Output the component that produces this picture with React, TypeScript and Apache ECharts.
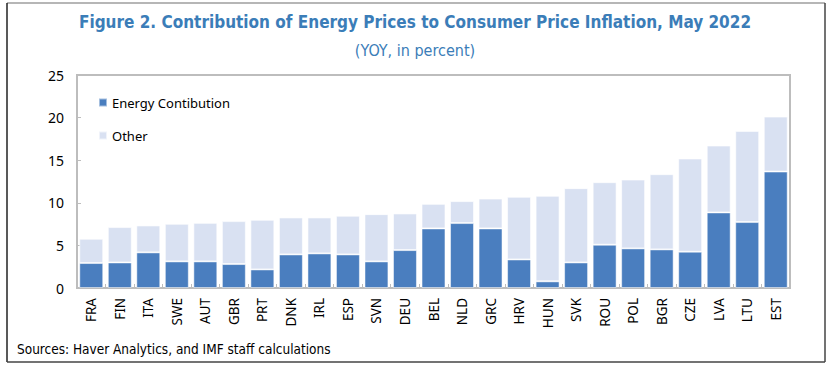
import React, { useEffect, useRef } from "react";
import * as echarts from "echarts";

const categories = ["FRA","FIN","ITA","SWE","AUT","GBR","PRT","DNK","IRL","ESP","SVN","DEU","BEL","NLD","GRC","HRV","HUN","SVK","ROU","POL","BGR","CZE","LVA","LTU","EST"];
const energy = [2.93,3.0,4.18,3.12,3.12,2.81,2.18,3.94,4.06,3.94,3.12,4.45,6.99,7.62,6.99,3.35,0.78,3.0,5.08,4.65,4.53,4.26,8.87,7.74,13.67];
const totals = [5.78,7.15,7.34,7.54,7.65,7.85,8.0,8.28,8.28,8.48,8.67,8.75,9.88,10.2,10.5,10.7,10.82,11.72,12.42,12.73,13.36,15.2,16.72,18.44,20.12];
const other = totals.map((t, i) => Math.round((t - energy[i]) * 100) / 100);
const yTicks = [0, 5, 10, 15, 20, 25];

const titleText = "Figure 2. Contribution of Energy Prices to Consumer Price Inflation, May 2022";
const subtitleText = "(YOY, in percent)";
const sourceText = "Sources: Haver Analytics, and IMF staff calculations";
const condensed = "'DejaVu Sans Condensed', 'Open Sans', sans-serif";

export default function App() {
  const ref = useRef<HTMLDivElement>(null);
  useEffect(() => {
    if (!ref.current) return;
    const chart = echarts.init(ref.current, null, { renderer: "svg" });
    chart.setOption({
      animation: false,
      backgroundColor: "#ffffff",
      title: [
        {
          text: titleText,
          left: "center",
          top: 8,
          textStyle: { fontFamily: condensed, fontWeight: "bold", fontSize: 17, color: "#3B7DB8" },
        },
        {
          text: subtitleText,
          left: "center",
          top: 37,
          textStyle: { fontFamily: condensed, fontWeight: "normal", fontSize: 16, color: "#3B7DB8" },
        },
      ],
      legend: {
        orient: "vertical",
        left: 93,
        top: 91,
        itemWidth: 8,
        itemHeight: 8,
        itemGap: 20,
        icon: "rect",
        textStyle: { fontFamily: "Noto Sans", fontSize: 13, color: "#000" },
        data: ["Energy Contibution", "Other"],
      },
      grid: {
        left: 77,
        right: 40,
        top: 75,
        bottom: 81,
        show: true,
        borderColor: "#BDBDBD",
        borderWidth: 2,
      },
      xAxis: {
        type: "category",
        data: categories,
        axisLine: { lineStyle: { color: "#BDBDBD", width: 2 } },
        axisTick: { show: true, inside: true, length: 4, lineStyle: { color: "#BDBDBD" } },
        axisLabel: {
          rotate: 90,
          interval: 0,
          margin: 10,
          fontFamily: "Noto Sans",
          fontSize: 13.5,
          color: "#000",
        },
      },
      yAxis: {
        type: "value",
        min: yTicks[0],
        max: yTicks[yTicks.length - 1],
        interval: 5,
        splitLine: { show: false },
        axisLine: { show: true, lineStyle: { color: "#BDBDBD", width: 2 } },
        axisTick: { show: true, inside: true, length: 4, lineStyle: { color: "#BDBDBD" } },
        axisLabel: { fontFamily: "Noto Sans", fontSize: 14, color: "#000", margin: 13 },
      },
      series: [
        {
          name: "Energy Contibution",
          type: "bar",
          stack: "total",
          data: energy,
          barCategoryGap: "16%",
          itemStyle: { color: "#4A7EBF", borderColor: "rgba(255,255,255,0.5)", borderWidth: 1 },
        },
        {
          name: "Other",
          type: "bar",
          stack: "total",
          data: other,
          barCategoryGap: "16%",
          itemStyle: { color: "#D9E1F2", borderColor: "rgba(255,255,255,0.6)", borderWidth: 1 },
        },
      ],
      graphic: [
        { type: "line", shape: { x1: 7, y1: 3, x2: 825, y2: 3 }, style: { stroke: "#9E9E9E", lineWidth: 1.5 } },
        { type: "line", shape: { x1: 7, y1: 3, x2: 7, y2: 362 }, style: { stroke: "#222", lineWidth: 1.5 } },
        { type: "line", shape: { x1: 825, y1: 3, x2: 825, y2: 362 }, style: { stroke: "#444", lineWidth: 1.5 } },
        { type: "line", shape: { x1: 7, y1: 362, x2: 825, y2: 362 }, style: { stroke: "#444", lineWidth: 1.5 } },
        {
          type: "text",
          left: 17,
          top: 342,
          style: { text: sourceText, fontFamily: condensed, fontSize: 13.5, fill: "#000" },
        },
      ],
    });
    return () => chart.dispose();
  }, []);
  return <div ref={ref} style={{ width: 830, height: 369, position: "absolute", left: 0, top: 0 }} />;
}
